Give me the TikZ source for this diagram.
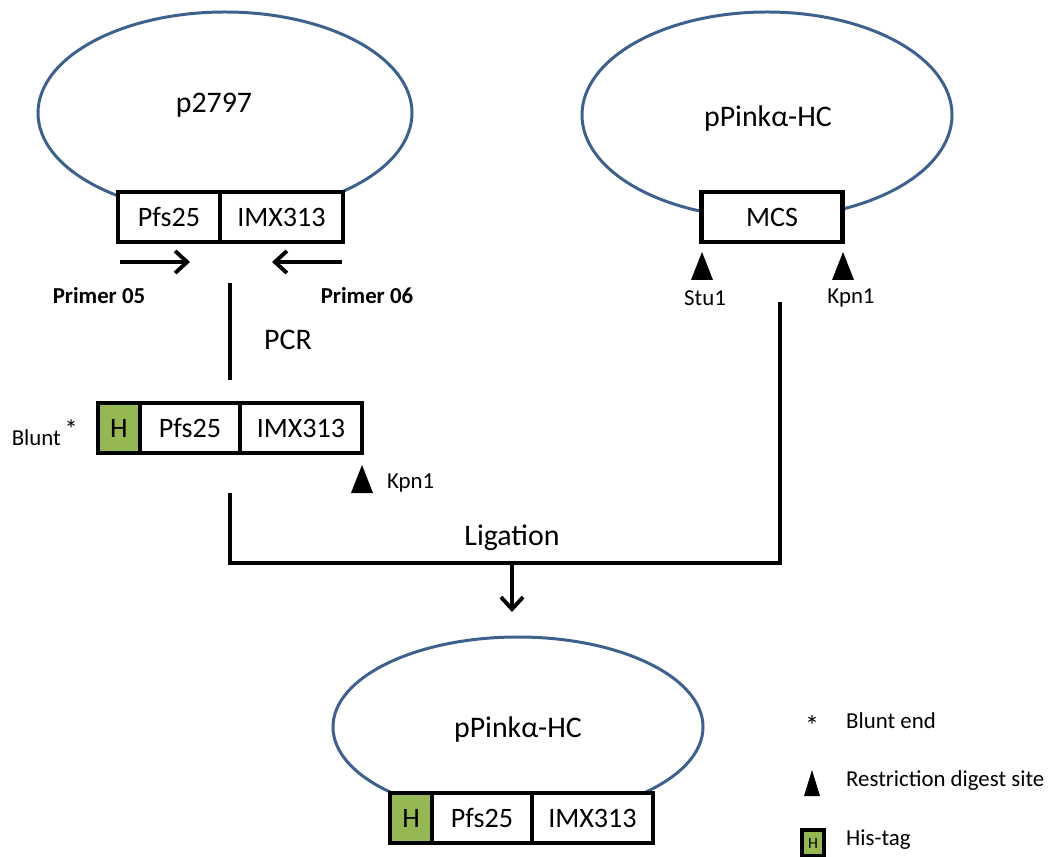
\documentclass[tikz,border=0pt]{standalone}
\usepackage{fontspec}
\setmainfont{Carlito}
\usetikzlibrary{shapes.geometric}
\usetikzlibrary{positioning}
\usetikzlibrary{arrows.meta}
\definecolor{ringblue}{RGB}{62,96,140}
\definecolor{hisgreen}{RGB}{150,184,84}

\begin{document}
\begin{tikzpicture}[x=0.02cm, y=-0.02cm, >={Straight Barb[length=2.4mm,width=4.4mm]},
  plasmid/.style={draw=ringblue, line width=1.7pt, ellipse, inner sep=0pt},
  cell/.style={draw=black, line width=2.4pt, fill=white, inner sep=0pt, outer sep=0pt, minimum height=50*0.02cm, font=\fontsize{16}{18}\selectfont},
  hcell/.style={cell, fill=hisgreen, minimum width=42*0.02cm},
  big/.style={font=\fontsize{17}{19}\selectfont},
  small/.style={font=\fontsize{13}{15}\selectfont},
  flow/.style={line width=2.2pt}]

\useasboundingbox (0,0) rectangle (1053,857);

% first plasmid
\node[plasmid, minimum width=374*0.02cm, minimum height=202*0.02cm] (p1) at (225,113) {};
\node[big] (p1t) at (214,105) {p2797};
\node[cell, minimum width=102*0.02cm] (a1) at (169,217) {Pfs25};
\node[cell, minimum width=123*0.02cm, anchor=west] (a2) at (a1.east) {IMX313};
\draw[flow, ->] (120,262) coordinate (f1) -- (190,262) coordinate (f2);
\draw[flow, ->] (342,262) coordinate (r1) -- (272,262) coordinate (r2);
\node[small, font=\fontsize{13}{15}\selectfont\bfseries] (pr5) at (99,296) {Primer 05};
\node[small, font=\fontsize{13}{15}\selectfont\bfseries] (pr6) at (367,296) {Primer 06};

% second plasmid
\node[plasmid, minimum width=370*0.02cm, minimum height=206*0.02cm] (p2) at (767,115) {};
\node[big] (p2t) at (768,119) {pPinkα-HC};
\node[cell, minimum width=141*0.02cm] (mcs) at (772,217) {MCS};
\coordinate (s1) at (702,280);
\coordinate (s2) at (843,280);
\node[small] (stu) at (705,298) {Stu1};
\node[small] (kpn) at (851,298) {Kpn1};

% PCR product
\coordinate (c1) at (230,283);
\coordinate (c2) at (230,380);
\draw[flow] (c1) -- (c2);
\node[big] (pcr) at (288,340) {PCR};
\node[hcell] (b0) at (119,428) {H};
\node[cell, minimum width=100*0.02cm, anchor=west] (b1) at (b0.east) {Pfs25};
\node[cell, minimum width=122*0.02cm, anchor=west] (b2) at (b1.east) {IMX313};
\node[small, anchor=east] (blunt) at (84,433) {Blunt\,\raisebox{0.6ex}{\fontsize{15}{15}\selectfont *}};
\coordinate (s3) at (362,493);
\node[small, anchor=west] (kpn2) at (381,483) {Kpn1};

% restriction sites
\foreach \s in {s1,s2,s3}
  \fill (\s) ++(-11,0) -- ++(22,0) -- ++(-11,-28) -- cycle;

% ligation
\coordinate (l1) at (230,493);
\coordinate (l2) at (230,563);
\coordinate (l3) at (780,563);
\coordinate (l4) at (780,302);
\coordinate (m1) at (512,563);
\coordinate (m2) at (512,612);
\draw[flow, line join=miter] (l1) -- (l2) -- (l3) -- (l4);
\draw[flow, ->] (m1) -- (m2);
\node[big] (lig) at (512,538) {Ligation};

% final plasmid
\node[plasmid, minimum width=370*0.02cm, minimum height=180*0.02cm] (p3) at (518,727) {};
\node[big] (p3t) at (518,730) {pPinkα-HC};
\node[hcell] (d0) at (411,818) {H};
\node[cell, minimum width=100*0.02cm, anchor=west] (d1) at (d0.east) {Pfs25};
\node[cell, minimum width=121*0.02cm, anchor=west] (d2) at (d1.east) {IMX313};

% legend
\node[font=\fontsize{16}{16}\selectfont] (k1) at (812,726) {*};
\node[small, anchor=west] (k1t) at (840,721) {Blunt end};
\coordinate (s4) at (812,796);
\fill (s4) ++(-8,0) -- ++(16,0) -- ++(-8,-26) -- cycle;
\node[small, anchor=west] (k2t) at (840,781) {Restriction digest site};
\node[hcell, minimum width=22*0.02cm, minimum height=26*0.02cm, font=\fontsize{9}{10}\selectfont] (k3) at (813,843) {H};
\node[small, anchor=west] (k3t) at (840,840) {His-tag};

\end{tikzpicture}
\end{document}
